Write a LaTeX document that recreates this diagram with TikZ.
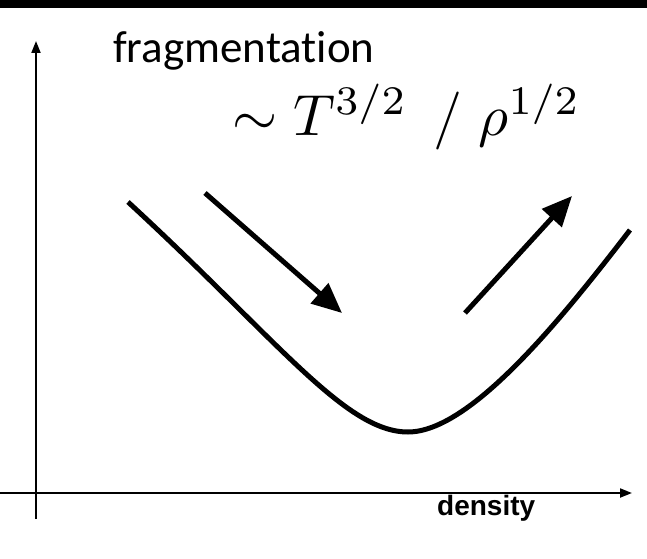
\documentclass[tikz,border=0pt]{standalone}
\usepackage{fontspec}
\newfontfamily\slidefont{Carlito}
\newfontfamily\labelfont{Liberation Sans}
\usepackage{tikz}
\usetikzlibrary{arrows.meta,positioning}

\begin{document}
\begin{tikzpicture}[x=1pt,y=1pt,
 axis/.style={line width=2pt,-{Triangle[length=12pt,width=9pt]}},
 trend/.style={line width=5pt,-{Triangle[length=30pt,width=26pt]}},
 curve/.style={line width=5pt},
 fragtext/.style={font=\slidefont\fontsize{45}{48}\selectfont,anchor=base west,inner sep=0pt},
 formula/.style={anchor=base west,inner sep=0pt},
 xlab/.style={font=\labelfont\bfseries\fontsize{28}{28}\selectfont,anchor=base west,inner sep=0pt}]
\useasboundingbox (0,0) rectangle (647,558);
\fill[black] (0,550) rectangle (647,558);
% axes
\coordinate (ybot) at (36,39); \coordinate (ytop) at (36,517);
\coordinate (xleft) at (0,65); \coordinate (xright) at (632,65);
\draw[axis] (ybot) -- (ytop);
\draw[axis] (xleft) -- (xright);
\node[xlab] (dens) at (437,43) {density};
% labels
\node[fragtext] (frag) at (113,495) {fragmentat\kern0pt ion};
\node[formula] (jeans) at (232,422) {\scalebox{5.8}{$\sim T^{3/2}\;\,/\;\rho^{1/2}$}};
% curve
\coordinate (cl) at (128,356); \coordinate (cb) at (408,126); \coordinate (cr) at (630,328);
\draw[curve] (cl) .. controls (278,218) and (345,126) .. (cb)
  .. controls (470,126) and (560,237) .. (cr);
% arrows
\coordinate (a1s) at (205,365); \coordinate (a1e) at (342,245);
\coordinate (a2s) at (465,245); \coordinate (a2e) at (572,362);
\draw[trend] (a1s) -- (a1e);
\draw[trend] (a2s) -- (a2e);
\end{tikzpicture}
\end{document}
